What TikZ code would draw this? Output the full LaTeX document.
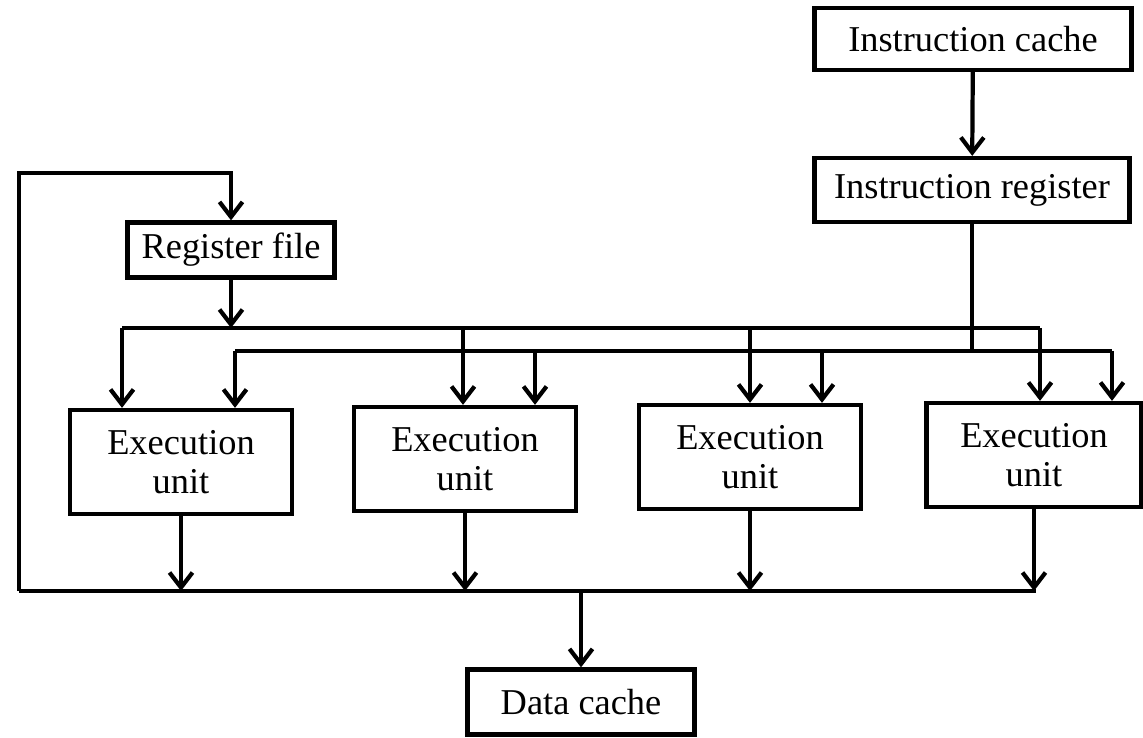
\documentclass[tikz,border=0pt]{standalone}
\usepackage{fontspec}
\setmainfont{Liberation Serif}
\usetikzlibrary{arrows.meta}

\tikzset{
  blk/.style={draw, line width=2.4pt, inner sep=0pt, align=center,
              font=\fontsize{20.7}{22.5}\selectfont},
  unit/.style={blk, minimum width=4.45cm, minimum height=2.08cm},
  arr/.style={-{Straight Barb[length=0.3cm,width=0.46cm]}},
}

\begin{document}
\begin{tikzpicture}[line width=2.4pt]
    \useasboundingbox (0,0) rectangle (22.86,14.76);
    % Boxes
    \node[blk, minimum width=6.34cm, minimum height=1.24cm] (icache) at (19.46,13.98) {Instruction cache};
    \node[blk, minimum width=6.30cm, minimum height=1.28cm] (ireg) at (19.44,10.96) {Instruction register};
    \node[blk, minimum width=4.14cm, minimum height=1.10cm] (regfile) at (4.62,9.76) {Register file};
    \node[unit] (eu1) at (3.62,5.52) {Execution\\unit};
    \node[unit] (eu2) at (9.30,5.58) {Execution\\unit};
    \node[unit] (eu3) at (15.00,5.62) {Execution\\unit};
    \node[unit, minimum width=4.30cm] (eu4) at (20.68,5.66) {Execution\\unit};
    \node[blk, minimum width=4.54cm, minimum height=1.30cm] (dcache) at (11.62,0.72) {Data cache};
    % Bus taps
    \foreach \n/\x in {1/2.44, 2/9.26, 3/15.00, 4/20.80}
        \coordinate (r\n) at (\x,8.20);
    \foreach \n/\x in {1/4.70, 2/10.70, 3/16.44, 4/22.24}
        \coordinate (i\n) at (\x,7.74);
    \coordinate (da) at (0.38,2.94);
    \coordinate (db) at (20.72,2.94);
    \coordinate (fb) at (0.38,11.30);
    % Instruction path
    \draw[arr] (icache) -- (ireg);
    \draw (ireg) -- (ireg |- i1);
    \draw[arr] (regfile) -- (regfile |- r1);
    \draw (r1) -- (r4);
    \draw (i1) -- (i4);
    \foreach \n in {1,...,4} {
        \draw[arr] (r\n) -- (r\n |- eu\n.north);
        \draw[arr] (i\n) -- (i\n |- eu\n.north);
        \draw[arr] (eu\n) -- (eu\n |- da);
    }
    % Results
    \draw (da) -- (db);
    \draw[arr] (dcache |- da) -- (dcache);
    \draw[arr] (da) -- (fb) -| (regfile);
\end{tikzpicture}
\end{document}
